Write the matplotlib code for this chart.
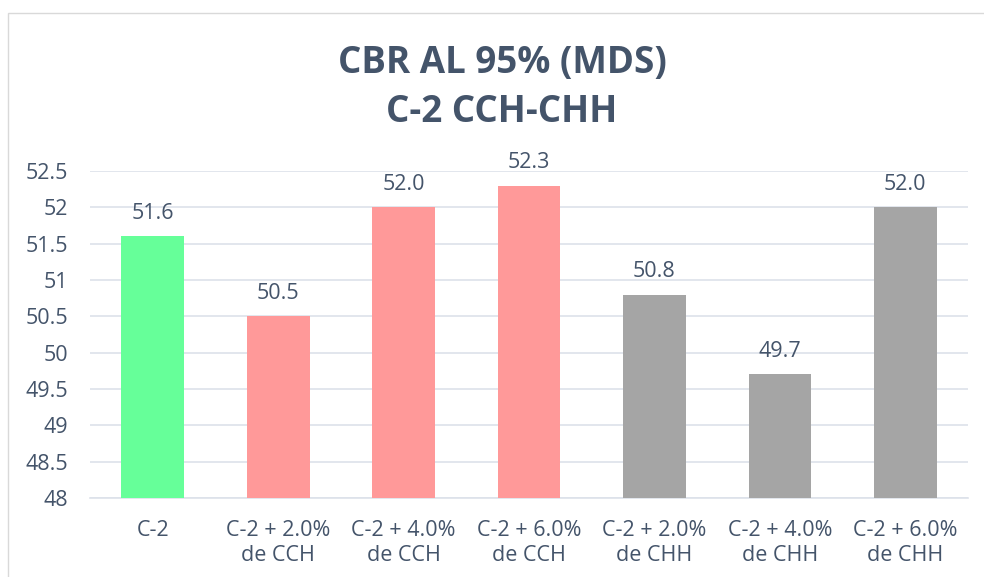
import matplotlib.pyplot as plt
from matplotlib.patches import Rectangle

categories = ['C-2', 'C-2 + 2.0%\nde CCH', 'C-2 + 4.0%\nde CCH', 'C-2 + 6.0%\nde CCH',
              'C-2 + 2.0%\nde CHH', 'C-2 + 4.0%\nde CHH', 'C-2 + 6.0%\nde CHH']
cbr_values = [51.6, 50.5, 52.0, 52.3, 50.8, 49.7, 52.0]
value_labels = ['51.6', '50.5', '52.0', '52.3', '50.8', '49.7', '52.0']
bar_colors = ['#66FF99', '#FF9999', '#FF9999', '#FF9999', '#A5A5A5', '#A5A5A5', '#A5A5A5']
y_ticks = [48, 48.5, 49, 49.5, 50, 50.5, 51, 51.5, 52, 52.5]
y_tick_labels = ['48', '48.5', '49', '49.5', '50', '50.5', '51', '51.5', '52', '52.5']

text_color = '#44546A'
plt.rcParams['font.family'] = ['Open Sans', 'DejaVu Sans']

fig = plt.figure(figsize=(9.84, 5.77), dpi=100)
fig.patches.append(Rectangle((8 / 984, -0.01), 1.0, 1 - 13 / 577 + 0.01, transform=fig.transFigure,
                             fill=False, edgecolor='#D9D9D9', linewidth=1.0))

ax = fig.add_axes([90 / 984, 1 - 498 / 577, 878 / 984, 327 / 577])
x = range(len(categories))
ax.bar(x, [v - 48 for v in cbr_values], bottom=48, width=0.5, color=bar_colors, zorder=3)

for i, (v, lab) in enumerate(zip(cbr_values, value_labels)):
    ax.annotate(lab, (i, v), textcoords='offset points', xytext=(0, 9),
                ha='center', va='bottom', fontsize=15.5, color=text_color)

ax.set_ylim(48, 52.5)
ax.set_xlim(-0.5, len(categories) - 0.5)
ax.set_yticks(y_ticks)
ax.set_yticklabels(y_tick_labels, fontsize=15.5, color=text_color)
ax.set_xticks(list(x))
ax.set_xticklabels(categories, fontsize=15.5, color=text_color, linespacing=1.25)
ax.tick_params(axis='both', length=0)
ax.tick_params(axis='x', pad=16)
ax.tick_params(axis='y', pad=16)
ax.grid(axis='y', color='#DDE2EA', linewidth=1.2, zorder=0)
for side in ['top', 'right', 'left']:
    ax.spines[side].set_visible(False)
ax.spines['bottom'].set_color('#DDE2EA')
ax.spines['bottom'].set_linewidth(1.2)

title_x = 502 / 984
fig.text(title_x, 1 - 63 / 577, 'CBR AL 95% (MDS)', ha='center', va='center',
         fontsize=26.5, fontweight='bold', color=text_color)
fig.text(title_x, 1 - 112 / 577, 'C-2 CCH-CHH', ha='center', va='center',
         fontsize=26.5, fontweight='bold', color=text_color)

fig.savefig('out.png', dpi=100)
